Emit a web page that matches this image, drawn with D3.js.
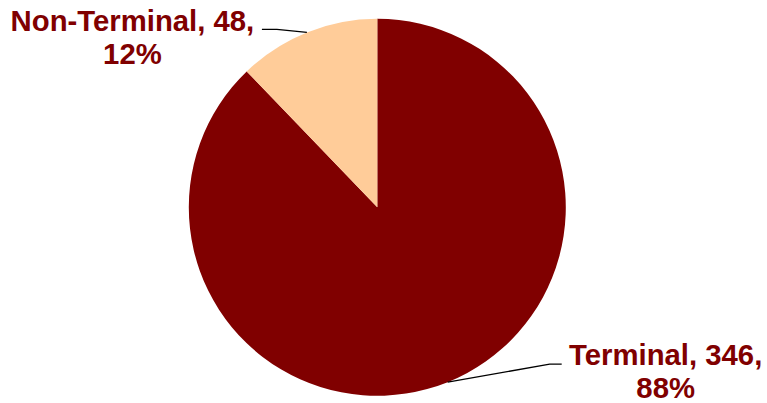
<!DOCTYPE html>
<html>
<head>
<meta charset="utf-8">
<script src="https://cdn.jsdelivr.net/npm/d3@7"></script>
<style>
    html, body { margin: 0; padding: 0; background: #fff; }
    svg { display: block; }
    .lbl { font-family: "Liberation Sans", Arial, sans-serif; font-weight: bold; font-size: 29.3px; fill: #800000; }
</style>
</head>
<body>
<svg id="chart" width="767" height="403"></svg>
<script>
var categories = ["Terminal", "Non-Terminal"];
var counts = [346, 48];
var percents = ["88%", "12%"];
var colors = ["#800000", "#FFCC99"];

(function () {
    var svg = d3.select("#chart"),
        cx = 377.3,
        cy = 207.3,
        radius = 188.5;

    var data = categories.map(function (c, i) {
        return { cat: c, count: counts[i], pct: percents[i], color: colors[i] };
    });

    var pie = d3.pie()
        .sort(null)
        .value(function (d) { return d.count; })(data);

    var arc = d3.arc()
        .outerRadius(radius)
        .innerRadius(0);

    var g = svg.append("g")
        .attr("transform", "translate(" + cx + "," + cy + ")");

    g.selectAll(".arc")
        .data(pie)
        .enter().append("path")
        .attr("class", "arc")
        .attr("d", arc)
        .style("fill", function (d) { return d.data.color; });

    // leader lines + labels, placed from each slice's mid angle
    pie.forEach(function (d) {
        var a = (d.startAngle + d.endAngle) / 2,
            px = Math.sin(a) * radius,
            py = -Math.cos(a) * radius,
            right = Math.sin(a) > 0,
            elbow, end, tx, ty;

        if (right) {
            elbow = [px + 102, py - 18];
            end = [elbow[0] + 12, elbow[1]];
            tx = end[0] + 104;
            ty = end[1] + 1;
        } else {
            elbow = [px - 30, py - 3];
            end = [elbow[0] - 15, elbow[1]];
            tx = end[0] - 129.5;
            ty = end[1] + 2;
        }

        g.append("path")
            .attr("d", d3.line()([[px, py], elbow, end]))
            .attr("fill", "none")
            .attr("stroke", "#000")
            .attr("stroke-width", 1.3);

        var t = g.append("text")
            .attr("class", "lbl")
            .attr("text-anchor", "middle")
            .attr("x", tx)
            .attr("y", ty);
        t.append("tspan").attr("x", tx).text(d.data.cat + ", " + d.data.count + ",");
        t.append("tspan").attr("x", tx).attr("dy", 32.5).text(d.data.pct);
    });
})();
</script>
</body>
</html>
